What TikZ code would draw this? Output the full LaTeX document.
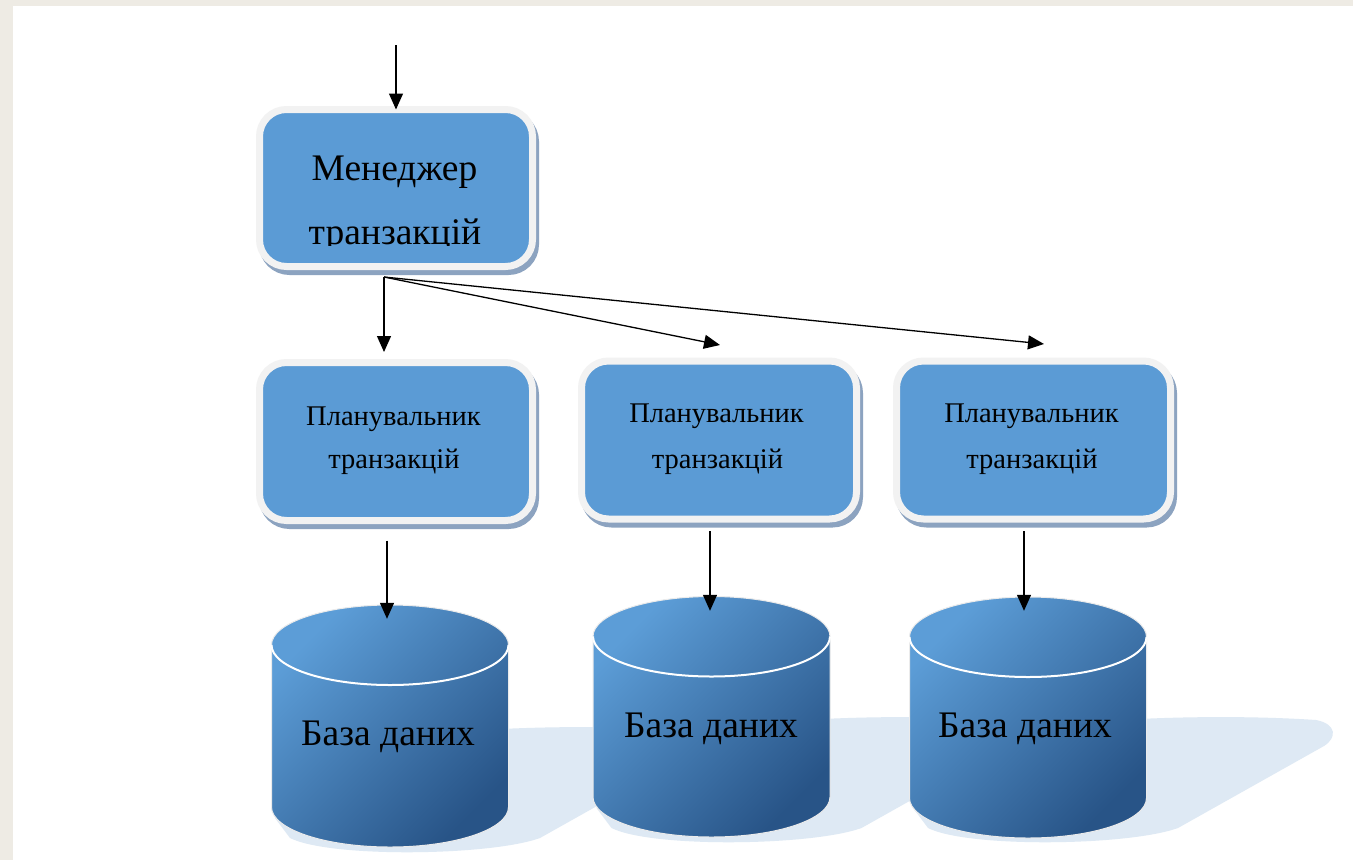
\documentclass[tikz,border=0pt]{standalone}
\usepackage{fontspec}
\setmainfont{Liberation Serif}
\usetikzlibrary{arrows.meta,calc}
\definecolor{slidebg}{RGB}{238,235,228}
\definecolor{boxblue}{RGB}{91,155,213}
\definecolor{boxedge}{RGB}{242,242,242}
\definecolor{boxshadow}{RGB}{140,163,192}
\definecolor{cylA}{RGB}{92,157,215}
\definecolor{cylB}{RGB}{74,133,193}
\definecolor{cylC}{RGB}{40,84,135}
\definecolor{floorshadow}{RGB}{222,233,244}
\newcommand{\floorsh}[2]{%
  \fill[floorshadow] (#1-115,#2-30) -- (#1-60,#2-100)
    .. controls (#1+50,#2-122) and (#1+200,#2-124) .. (#1+288,#2-118)
    .. controls (#1+309,#2-114) and (#1+309,#2-100) .. (#1+296,#2-92)
    -- (#1+150,#2-10)
    .. controls (#1+100,#2+8) and (#1-60,#2+10) .. (#1-100,#2-10) -- cycle;}
\newcommand{\dbcyl}[3]{%
  \path[cylshade] (#1-118.5,#2) -- (#1-118.5,#3)
    arc[start angle=180,end angle=0,x radius=118.5,y radius=40]
    -- (#1+118.5,#2)
    arc[start angle=0,end angle=-180,x radius=118.5,y radius=40] -- cycle;
  \draw[white, line width=2pt] (#1-118.5,#2)
    arc[start angle=180,end angle=0,x radius=118.5,y radius=40];}
\begin{document}
\begin{tikzpicture}[x=1pt,y=-1pt,
  pbox/.style={rectangle, rounded corners=27pt, fill=boxblue, draw=boxedge,
    line width=7pt, minimum width=273pt, minimum height=158pt, inner sep=0pt,
    preaction={draw=boxshadow, fill=boxshadow, line width=7pt,
      transform canvas={xshift=3pt,yshift=-5pt}}},
  bigtext/.style={font=\fontsize{37.5}{37.5}\selectfont, anchor=base, inner sep=0pt},
  midtext/.style={font=\fontsize{28.5}{28.5}\selectfont, anchor=base, inner sep=0pt},
  dbtext/.style={font=\fontsize{37.5}{37.5}\selectfont, anchor=base, inner sep=0pt},
  cylspace/.style={rectangle, inner sep=0pt, minimum width=237pt},
  cylshade/.style={top color=cylA, middle color=cylB, bottom color=cylC,
    shading angle=45, draw=white!92!black, line width=1pt},
  arr/.style={draw=black, line width=1.3pt, -{Triangle[length=16pt,width=14pt]}}
]
\useasboundingbox (0,0) rectangle (1353,860);
\fill[slidebg] (0,0) rectangle (1353,860);
\fill[white] (13,6) rectangle (1353,860);

% floor shadows
\floorsh{390}{848}
\floorsh{711.5}{838}
\floorsh{1028}{838}

% cylinders
\dbcyl{390}{645}{807}
\dbcyl{711.5}{636.5}{797}
\dbcyl{1028}{637}{798}
\node[cylspace, minimum height=242pt] (d1) at (390,726) {};
\node[cylspace, minimum height=240pt] (d2) at (711.5,717) {};
\node[cylspace, minimum height=241pt] (d3) at (1028,717.5) {};
\node[dbtext] (d1t) at (388,745) {База даних};
\node[dbtext] (d2t) at (711,737) {База даних};
\node[dbtext] (d3t) at (1025,737) {База даних};

% boxes
\node[pbox, minimum height=157pt] (m) at (396,188) {};
\node[pbox] (p1) at (396,441.5) {};
\node[pbox, minimum width=275pt] (p2) at (719,440) {};
\node[pbox, minimum width=274pt] (p3) at (1033.5,440) {};

\begin{scope}
  \clip (263,100) rectangle (529,245.5);
  \node[bigtext] (mt1) at (394.5,180) {Менеджер};
  \node[bigtext] (mt2) at (395,244) {транзакцій};
\end{scope}
\node[midtext] (p1a) at (393.5,425) {Планувальник};
\node[midtext] (p1b) at (394,468) {транзакцій};
\node[midtext] (p2a) at (716.5,422) {Планувальник};
\node[midtext] (p2b) at (717.5,468) {транзакцій};
\node[midtext] (p3a) at (1031.5,422) {Планувальник};
\node[midtext] (p3b) at (1032,468) {транзакцій};

% connectors
\coordinate (src) at (396,45);
\coordinate (mo) at ($(m.south)+(-12,7)$);
\draw[arr] (src) -- ($(m.north)+(0,3.5)$);
\draw[arr] (mo) -- ($(p1.north)+(-12,-7)$);
\draw[arr] (mo) -- ($(p2.north)+(1,-12.5)$);
\draw[arr] (mo) -- ($(p3.north)+(10.5,-13.5)$);
\draw[arr] ($(p1.south)+(-9,16.5)$) -- ($(d1.north)+(-3,14)$);
\draw[arr] ($(p2.south)+(-9,8.5)$) -- ($(d2.north)+(-1.5,14)$);
\draw[arr] ($(p3.south)+(-9.5,8.5)$) -- ($(d3.north)+(-4,14)$);
\end{tikzpicture}
\end{document}
